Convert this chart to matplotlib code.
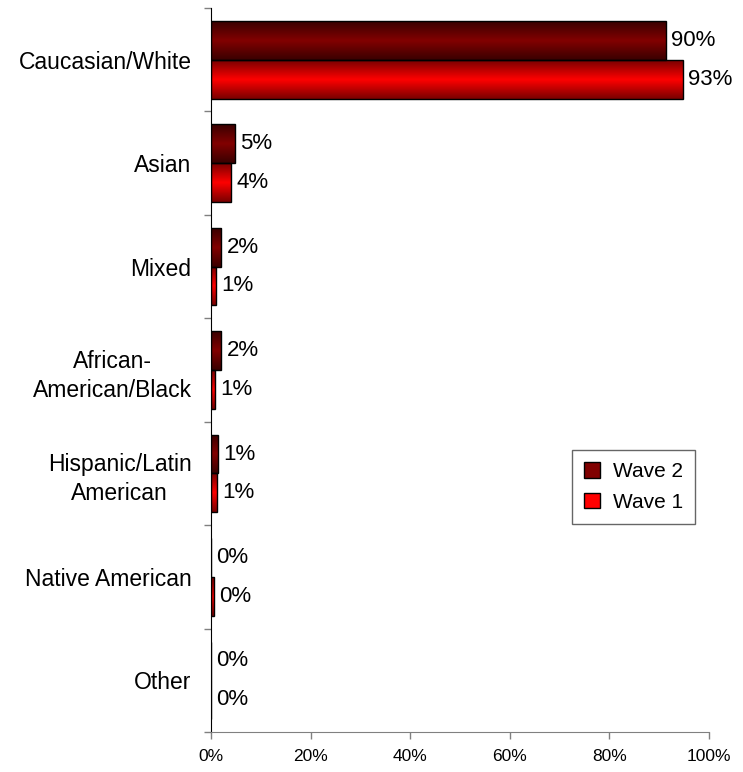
import numpy as np
import matplotlib
matplotlib.use('Agg')
import matplotlib.pyplot as plt
from matplotlib.colors import LinearSegmentedColormap
from matplotlib.patches import Patch

plt.rcParams['font.family'] = ['Liberation Sans', 'DejaVu Sans']

categories = ['Caucasian/White', 'Asian', 'Mixed', 'African-\nAmerican/Black',
              'Hispanic/Latin\nAmerican', 'Native American', 'Other']
wave2 = [91.4, 4.8, 2.1, 2.1, 1.4, 0.0, 0.0]
wave1 = [94.8, 4.1, 1.1, 0.9, 1.2, 0.7, 0.0]
wave2_labels = ['90%', '5%', '2%', '2%', '1%', '0%', '0%']
wave1_labels = ['93%', '4%', '1%', '1%', '1%', '0%', '0%']
xticks = [0, 20, 40, 60, 80, 100]

cmap2 = LinearSegmentedColormap.from_list('w2', ['#3a0000', '#820000', '#3a0000'])
cmap1 = LinearSegmentedColormap.from_list('w1', ['#7a0000', '#ff0000', '#7a0000'])
grad = np.linspace(0, 1, 64).reshape(-1, 1)

fig = plt.figure(figsize=(7.43, 7.72), dpi=100, facecolor='white')
ax = fig.add_axes([0.284, 0.0518, 0.670, 0.9378])

y = np.arange(len(categories))
h = 0.375

def grad_bars(vals, offs, cmap):
    bars = ax.barh(y + offs, vals, height=h, color='none', edgecolor='black', linewidth=1.0, zorder=3)
    for b in bars:
        x0, y0 = b.get_x(), b.get_y()
        w, hh = b.get_width(), b.get_height()
        if w <= 0:
            continue
        im = ax.imshow(grad, cmap=cmap, aspect='auto', extent=(x0, x0 + w, y0 + hh, y0),
                       zorder=2, interpolation='bilinear')
        im.set_clip_path(b)
    return bars

grad_bars(wave2, -h / 2, cmap2)
grad_bars(wave1, h / 2, cmap1)

for i in range(len(categories)):
    ax.text(wave2[i] + 1.0, y[i] - h / 2, wave2_labels[i], va='center', ha='left', fontsize=16, zorder=4)
    ax.text(wave1[i] + 1.0, y[i] + h / 2, wave1_labels[i], va='center', ha='left', fontsize=16, zorder=4)

ax.set_xlim(0, 100)
ax.set_ylim(len(categories) - 0.5, -0.5)

ax.set_xticks(xticks)
ax.set_xticklabels([f'{t}%' for t in xticks], fontsize=12.5)
ax.set_yticks(y)
ax.set_yticklabels(categories, fontsize=16.5)
for lab in ax.get_yticklabels():
    lab.set_multialignment('center')
    lab.set_linespacing(1.35)
ax.tick_params(axis='y', which='major', length=0, pad=14)
ax.set_yticks(np.arange(len(categories) + 1) - 0.5, minor=True)
ax.tick_params(axis='y', which='minor', length=5, color='#808080', width=1)
ax.tick_params(axis='x', length=5, color='#808080', width=1, pad=7)

for s in ['top', 'right']:
    ax.spines[s].set_visible(False)
ax.spines['left'].set_color('black')
ax.spines['bottom'].set_color('#808080')

handles = [Patch(facecolor='#800000', edgecolor='black', label='Wave 2'),
           Patch(facecolor='#ff0000', edgecolor='black', label='Wave 1')]
leg = ax.legend(handles=handles, loc='upper left', bbox_to_anchor=(0.725, 0.39), fontsize=15,
                frameon=True, fancybox=False, edgecolor='#404040', handlelength=0.75, handleheight=0.75,
                handletextpad=0.6, borderpad=0.6, labelspacing=0.55, borderaxespad=0)
leg.get_frame().set_linewidth(1)

plt.savefig('out.png', dpi=100, facecolor='white')
